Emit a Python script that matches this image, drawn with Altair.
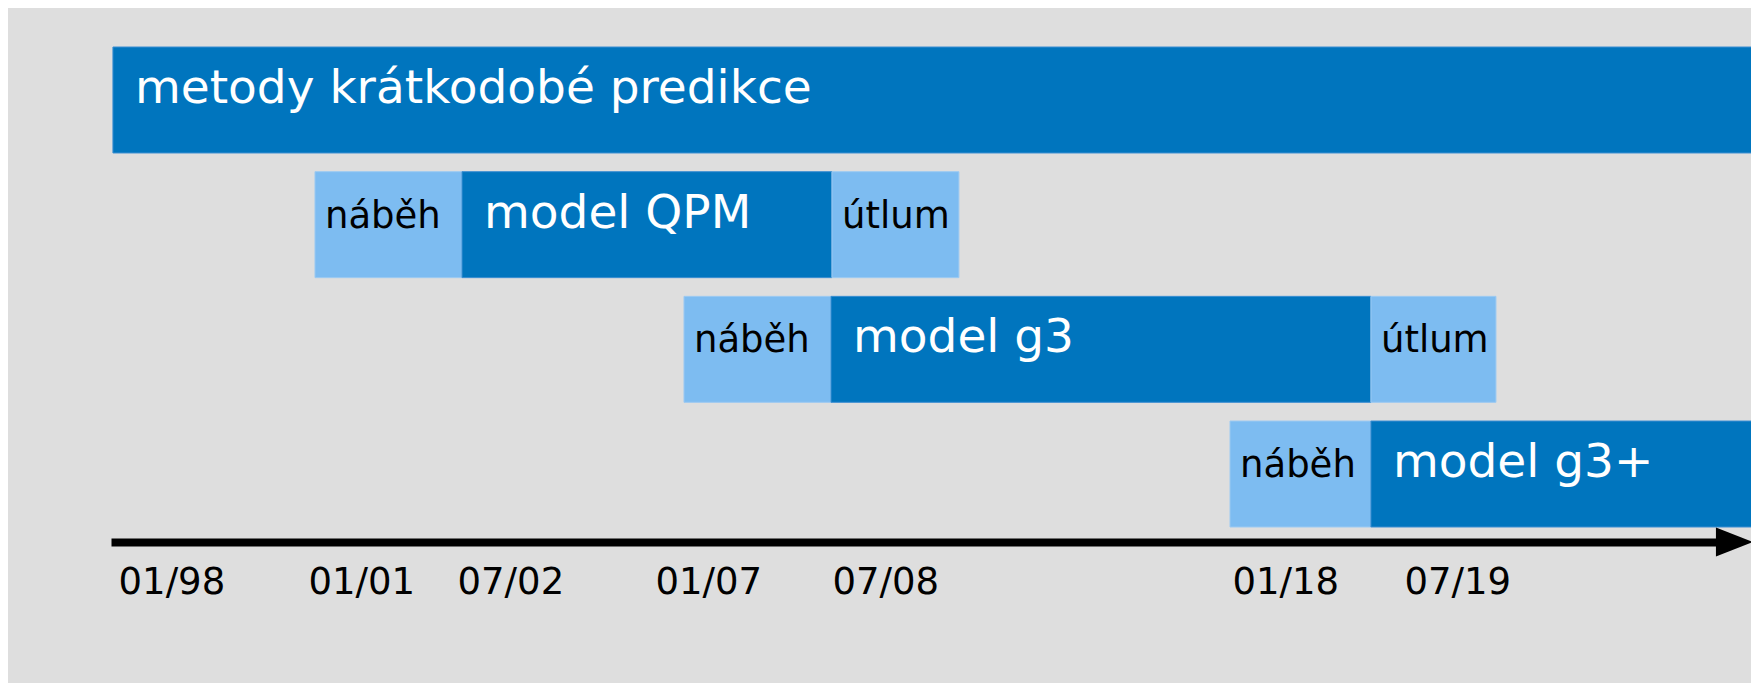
import json
import altair as alt
import pandas as pd

# ---- data (schematic timeline units) ----
rows = ["metody", "QPM", "g3", "g3+"]
seg_row = ["metody", "QPM", "QPM", "QPM", "g3", "g3", "g3", "g3+", "g3+"]
seg_start = [0.12, 12.71, 21.87, 44.92, 35.70, 44.86, 78.50, 69.72, 78.50]
seg_end = [102.24, 21.87, 44.92, 52.83, 44.86, 78.50, 86.29, 78.50, 102.24]
seg_kind = ["hlavní", "přechod", "hlavní", "přechod", "přechod", "hlavní", "přechod", "přechod", "hlavní"]
seg_label = ["metody krátkodobé predikce", "náběh", "model QPM", "útlum",
             "náběh", "model g3", "útlum", "náběh", "model g3+"]

tick_pos = [0.44, 12.27, 21.56, 33.89, 44.92, 69.84, 80.56]
tick_lab = ["01/98", "01/01", "07/02", "01/07", "07/08", "01/18", "07/19"]
arrow_pos = [101.15]

DARK = "#0075be"
LIGHT = "#7dbcf1"
BG = "#dedede"
FONT = "DejaVu Sans"

W, H = 1743, 534

seg = pd.DataFrame({"row": seg_row, "start": seg_start, "end": seg_end,
                    "kind": seg_kind, "label": seg_label})
arrow = pd.DataFrame({"pos": arrow_pos})

x_scale = alt.Scale(domain=[0, 100], range=[103, 1708], nice=False, zero=False)
y_scale = alt.Scale(domain=rows, range=[39, 519], paddingInner=0.15, paddingOuter=0)

label_expr = "{}[indexof({}, datum.value)]".format(json.dumps(tick_lab), json.dumps(tick_pos))

x_axis = alt.Axis(values=tick_pos, labelExpr=label_expr, orient="bottom",
                  domainColor="black", domainWidth=8, domainCap="butt", ticks=False, grid=False,
                  labelFont=FONT, labelFontSize=37, labelColor="black",
                  labelAlign="left", labelBaseline="alphabetic", labelPadding=51,
                  labelFlush=False, labelOverlap=False, labelBound=False, title=None)


def xenc(field):
    return alt.X(field, scale=x_scale, axis=x_axis, title=None)


bars = alt.Chart(seg).mark_bar(strokeWidth=1).encode(
    x=xenc("start:Q"),
    x2="end:Q",
    y=alt.Y("row:N", scale=y_scale, axis=None),
    color=alt.Color("kind:N", scale=alt.Scale(domain=["hlavní", "přechod"], range=[DARK, LIGHT]), legend=None),
    stroke=alt.Stroke("kind:N", scale=alt.Scale(domain=["hlavní", "přechod"], range=["#3a8ed2", "#9ccaf2"]), legend=None),
)

text_dark = alt.Chart(seg).transform_filter(alt.datum.kind == "hlavní").mark_text(
    align="left", baseline="alphabetic", dx=22, dy=3, font=FONT, fontSize=47, color="white"
).encode(
    x=xenc("start:Q"),
    y=alt.Y("row:N", scale=y_scale, axis=None),
    text="label:N",
)

text_light = alt.Chart(seg).transform_filter(alt.datum.kind == "přechod").mark_text(
    align="left", baseline="alphabetic", dx=10, dy=3, font=FONT, fontSize=37, color="black"
).encode(
    x=xenc("start:Q"),
    y=alt.Y("row:N", scale=y_scale, axis=None),
    text="label:N",
)

arrow_head = alt.Chart(arrow).mark_point(
    shape="M -1 -0.78 L 1 0 L -1 0.78 Z", filled=True, color="black", size=1369, opacity=1, strokeWidth=0
).encode(
    x=xenc("pos:Q"),
    y=alt.value(H),
)

chart = alt.layer(bars, text_dark, text_light, arrow_head).properties(
    width=W, height=H,
    autosize=alt.AutoSizeParams(type="none"),
    padding={"left": 0, "top": 0, "right": 0, "bottom": 141},
    background=BG,
).configure_view(stroke=None)

chart.save("out.html", embed_options={"renderer": "svg", "actions": False})
